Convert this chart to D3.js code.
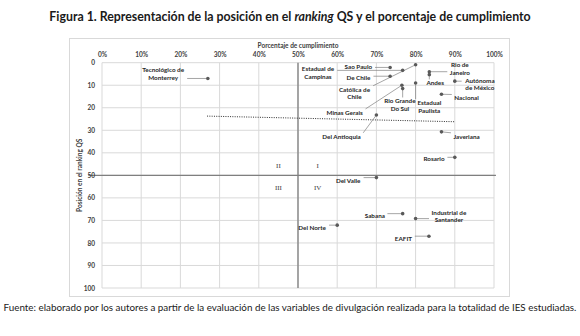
<!DOCTYPE html>
<html>
  <head>
    <meta charset="utf-8" />
    <title>Ranking QS vs porcentaje de cumplimiento</title>
    <style>
      body { margin: 0; background: #fff; }
      text { font-family: Lato, "Open Sans", sans-serif; }
      .grid line { stroke: #d9d9d9; stroke-width: 1px; }
      .tick-label { font-size: 6.5px; font-weight: bold; fill: #404040; }
      .lbl { font-size: 6.3px; font-weight: bold; fill: #262626; }
      .leader { stroke: #808080; stroke-width: 0.7px; }
      .quad { font-family: "Liberation Serif", serif; font-size: 7px; fill: #404040; }
    </style>
  </head>
  <body>
    <svg width="580" height="336"></svg>

    <script src="https://d3js.org/d3.v7.min.js"></script>
    <script>
      // Universities
      const names = [
        "Tecnológico de|Monterrey", "Estadual de|Campinas", "Sao Paulo", "De Chile",
        "Católica de|Chile", "Minas Gerais", "Rio Grande|Do Sul", "Estadual|Paulista",
        "Rio de|Janeiro", "Andes", "Autónoma|de México", "Nacional",
        "Del Antioquia", "Javeriana", "Rosario", "Del Valle",
        "Sabana", "Industrial de|Santander", "Del Norte", "EAFIT"
      ];
      // Porcentaje de cumplimiento (%)
      const pct = [27, 76.7, 73.5, 73.5, 80, 76.5, 76.7, 80, 83.5, 83.5, 90, 86.6,
                   70, 86.6, 90, 70, 76.7, 80, 60, 83.4];
      // Posición en el ranking QS
      const rank = [7, 3.4, 2.1, 6, 0.9, 10, 11.5, 9, 4, 5.3, 8.2, 14,
                    23.2, 30.7, 42, 51, 67, 69.2, 72.1, 77];
      // where each label sits, in chart units (pct, rank)
      const labelPct = [15.6, 55.1, 65.4, 65.4, 64.4, 61.9, 76, 83.5, 91.3, 85, 96.4, 93,
                        61.1, 93, 84.7, 62.8, 69.6, 88.5, 53.6, 76.9];
      const labelRank = [5, 4.6, 1.8, 6.9, 13.6, 22.2, 18.8, 19.5, 2.8, 9.1, 9.5, 15.8,
                         32.8, 32.8, 42.8, 52.5, 68, 68.1, 73.2, 78];

      // Linear trend, read at its two ends
      const trendPct = [26.8, 90];
      const trendRank = [23.7, 26.2];

      const xTicks = [0, 10, 20, 30, 40, 50, 60, 70, 80, 90, 100];
      const yTicks = [0, 10, 20, 30, 40, 50, 60, 70, 80, 90, 100];
      const quadrants = ["I", "II", "III", "IV"];
      const quadPct = [55, 45, 45, 55];
      const quadRank = [45.5, 45.5, 55.5, 55.5];

      const svg = d3.select("svg");

      const x = d3.scaleLinear().domain([0, 100]).range([102, 494]);
      const y = d3.scaleLinear().domain([0, 100]).range([62.7, 288]);

      // squeeze a text horizontally so it spans the given width around cx
      function fitWidth(sel, cx, w) {
        const nat = sel.node().getComputedTextLength();
        sel.attr("x", 0).attr("text-anchor", "middle")
          .attr("transform", `translate(${cx},${sel.attr("y")}) scale(${w / nat},1)`)
          .attr("y", 0);
      }

      // Title
      const title = svg.append("text")
        .attr("y", 21)
        .style("font-size", "13px").style("font-weight", "bold").style("fill", "#1a1a1a");
      title.append("tspan").text("Figura 1. Representación de la posición en el ");
      title.append("tspan").style("font-style", "italic").text("ranking");
      title.append("tspan").text(" QS y el porcentaje de cumplimiento");
      fitWidth(title, 290, 482);

      // Chart frame
      svg.append("rect")
        .attr("x", 69.5).attr("y", 38.5).attr("width", 440).attr("height", 258)
        .attr("fill", "#fff").attr("stroke", "#d9d9d9");

      // Grid
      const grid = svg.append("g").attr("class", "grid");
      grid.selectAll(".v").data(xTicks).join("line")
        .attr("x1", d => x(d)).attr("x2", d => x(d))
        .attr("y1", y(0)).attr("y2", y(100));
      grid.selectAll(".h").data(yTicks).join("line")
        .attr("x1", x(0)).attr("x2", x(100))
        .attr("y1", d => y(d)).attr("y2", d => y(d));

      // Quadrant dividers
      svg.append("line")
        .attr("x1", x(50)).attr("x2", x(50)).attr("y1", y(0)).attr("y2", y(100))
        .attr("stroke", "#7f7f7f").attr("stroke-width", 1.3);
      svg.append("line")
        .attr("x1", x(-3.5)).attr("x2", x(100.5)).attr("y1", y(50)).attr("y2", y(50))
        .attr("stroke", "#7f7f7f").attr("stroke-width", 1.3);

      // Axes (top x, left y)
      const xAxis = d3.axisTop(x).tickValues(xTicks).tickSize(0).tickPadding(0)
        .tickFormat(d => d + "%");
      svg.append("g").attr("transform", `translate(0,${y(0) - 6})`).call(xAxis)
        .call(g => g.select(".domain").remove())
        .selectAll("text").attr("class", "tick-label");

      const yAxis = d3.axisLeft(y).tickValues(yTicks).tickSize(0).tickPadding(0);
      svg.append("g").attr("transform", `translate(${x(0) - 7},0)`).call(yAxis)
        .call(g => g.select(".domain").remove())
        .selectAll("text").attr("class", "tick-label");

      svg.append("text")
        .attr("x", x(50)).attr("y", 48)
        .attr("text-anchor", "middle")
        .style("font-size", "6.5px").style("font-weight", "bold").style("fill", "#404040")
        .text("Porcentaje de cumplimiento");

      svg.append("text")
        .attr("transform", `translate(82,${y(50)}) rotate(-90)`)
        .attr("text-anchor", "middle")
        .style("font-size", "6.5px").style("font-weight", "bold").style("fill", "#404040")
        .text("Posición en el ranking QS");

      // Quadrant numbers
      svg.selectAll(".quad").data(quadrants).join("text")
        .attr("class", "quad")
        .attr("x", (d, i) => x(quadPct[i])).attr("y", (d, i) => y(quadRank[i]))
        .attr("text-anchor", "middle").attr("dy", "0.35em")
        .text(d => d);

      // Trend line
      svg.append("line")
        .attr("x1", x(trendPct[0])).attr("y1", y(trendRank[0]))
        .attr("x2", x(trendPct[1])).attr("y2", y(trendRank[1]))
        .attr("stroke", "#1a1a1a").attr("stroke-width", 0.9)
        .attr("stroke-dasharray", "1,1.3");

      // Labels
      const leaders = svg.append("g");
      const lineH = 7.6;
      const labels = svg.append("g").selectAll("text").data(names).join("text")
        .attr("class", "lbl")
        .attr("text-anchor", "middle")
        .attr("x", (d, i) => x(labelPct[i]))
        .attr("y", (d, i) => {
          const n = d.split("|").length;
          return y(labelRank[i]) - (n - 1) * lineH / 2 + 2.2;
        });
      labels.each(function (d, i) {
        d.split("|").forEach((part, k) => {
          d3.select(this).append("tspan")
            .attr("x", x(labelPct[i]))
            .attr("dy", k === 0 ? 0 : lineH)
            .text(part);
        });
      });

      // Leader lines: nearest point of the label box towards the dot
      labels.each(function (d, i) {
        const b = this.getBBox();
        const px = x(pct[i]), py = y(rank[i]);
        const pad = 2.5;
        const sx = Math.max(b.x - pad, Math.min(px, b.x + b.width + pad));
        const sy = Math.max(b.y, Math.min(py, b.y + b.height));
        const dx = px - sx, dy = py - sy;
        const len = Math.hypot(dx, dy) || 1;
        leaders.append("line").attr("class", "leader")
          .attr("x1", sx).attr("y1", sy)
          .attr("x2", px - dx / len * 1.5).attr("y2", py - dy / len * 1.5);
      });

      // Points
      svg.append("g").selectAll("circle").data(names).join("circle")
        .attr("cx", (d, i) => x(pct[i]))
        .attr("cy", (d, i) => y(rank[i]))
        .attr("r", 1.8)
        .attr("fill", "#595959");

      // Source
      const source = svg.append("text")
        .attr("y", 311)
        .style("font-size", "9.5px").style("fill", "#1a1a1a")
        .text("Fuente: elaborado por los autores a partir de la evaluación de las variables de divulgación realizada para la totalidad de IES estudiadas.");
      fitWidth(source, 290, 574);
    </script>
  </body>
</html>
